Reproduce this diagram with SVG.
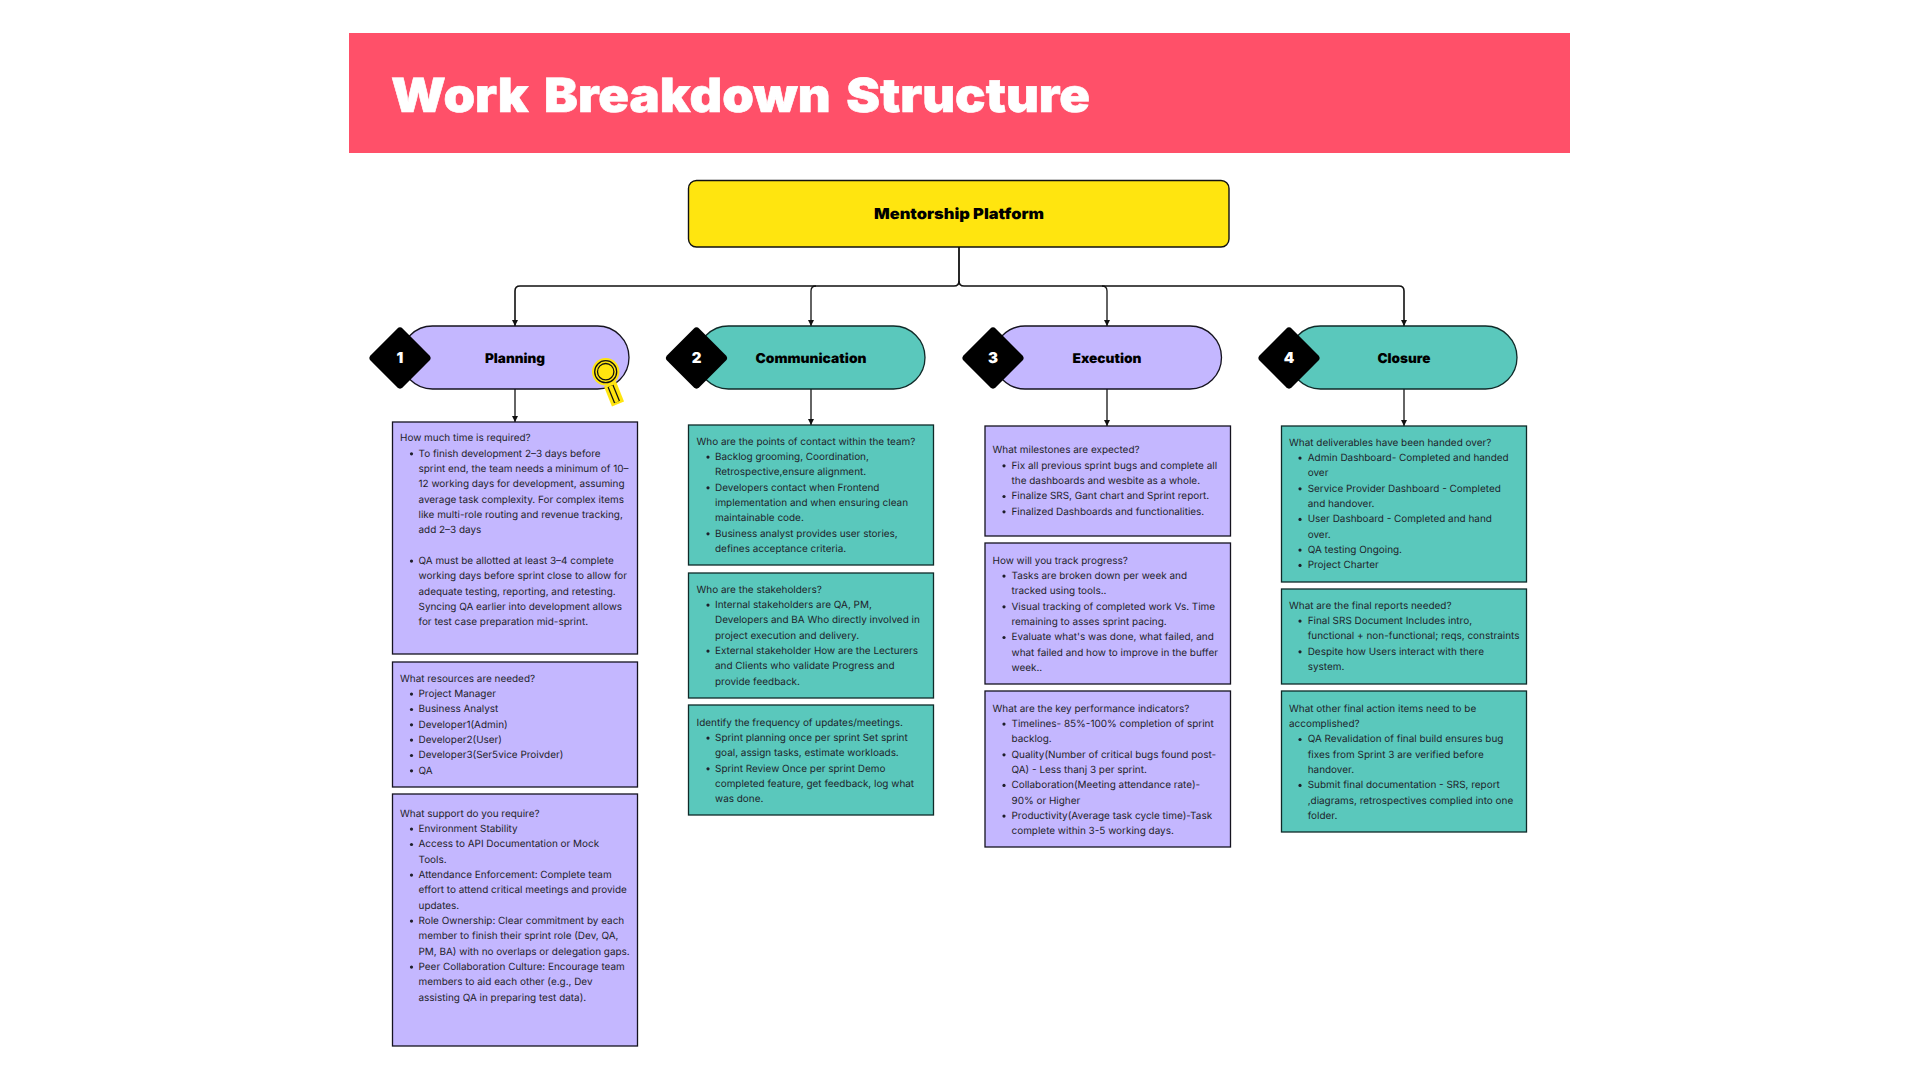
<svg xmlns="http://www.w3.org/2000/svg" xmlns:xlink="http://www.w3.org/1999/xlink" width="1920" height="1080" viewBox="0 0 1920 1080">
<style>
text{text-rendering:geometricPrecision}
.b{font-family:Inter,"Noto Sans",sans-serif;font-size:9.95px;fill:#1e1e2a;transform:translateY(-0.6px)}
.h{font-family:Inter,"Liberation Sans",sans-serif;font-weight:900;fill:#000;text-anchor:middle}
.p{fill:#c4b7ff;stroke:#15131f;stroke-width:1.3}
.t{fill:#5ac8bc;stroke:#0f2a28;stroke-width:1.3}
.k{fill:#000}
.n{font-family:Inter,"Liberation Sans",sans-serif;font-weight:900;font-size:15px;fill:#fff;text-anchor:middle}
.c{fill:none;stroke:#111;stroke-width:1.3}
.d{fill:#1e1e2a}
</style>
<defs>
<marker id="a" markerUnits="userSpaceOnUse" markerWidth="7" markerHeight="6" refX="6" refY="3" orient="auto"><path d="M0 0L6 3L0 6Z" fill="#111"/></marker>
<rect id="dm" x="-22.7" y="-22.7" width="45.4" height="45.4" rx="4" transform="rotate(45)"/>
</defs>
<rect width="1920" height="1080" fill="#fff"/>
<g id="banner"><rect x="349" y="33" width="1221" height="120" fill="#ff5069"/>
<text x="391" y="112" textLength="699" lengthAdjust="spacingAndGlyphs" style="font-family:Inter,'Liberation Sans',sans-serif;font-weight:900;font-size:47px;word-spacing:5px;fill:#fff;stroke:#fff;stroke-width:.6">Work Breakdown Structure</text></g>
<g id="connectors">
<path class="c" style="stroke-width:1.8" d="M959 247V281"/>
<path class="c" style="stroke-width:1.6" d="M959 281Q959 286 954 286H520Q515 286 515 291V326" marker-end="url(#a)"/>
<path class="c" d="M816 286Q811 286 811 291V326" marker-end="url(#a)"/>
<path class="c" style="stroke-width:1.6" d="M959 281Q959 286 964 286H1399Q1404 286 1404 291V326" marker-end="url(#a)"/>
<path class="c" d="M1102 286Q1107 286 1107 291V326" marker-end="url(#a)"/>
<path class="c" d="M515 389V422" marker-end="url(#a)"/>
<path class="c" d="M811 389V425" marker-end="url(#a)"/>
<path class="c" d="M1107 389V426" marker-end="url(#a)"/>
<path class="c" d="M1404 389V426" marker-end="url(#a)"/>
</g>
<g id="root"><rect x="688.500" y="180.500" width="540.500" height="66.500" rx="8" fill="#ffe50f" stroke="#111" stroke-width="1.4"/>
<text class="h" x="959" y="218.500" font-size="15" textLength="170" lengthAdjust="spacingAndGlyphs">Mentorship Platform</text></g>
<g id="planning"><rect class="p" x="401" y="326" width="228" height="63" rx="31.5"/><use xlink:href="#dm" x="400" y="358"/><text class="n" x="400" y="363">1</text><text class="h" x="515" y="363" font-size="13.500" textLength="60" lengthAdjust="spacingAndGlyphs">Planning</text>
<g id="magnifier"><path d="M610 384L618 404" stroke="#ffe50f" stroke-width="13" fill="none"/><path d="M610.500 386L617 402" stroke="#111" stroke-width="6.500" fill="none"/><path d="M610.500 386L617 402" stroke="#ffe50f" stroke-width="4" fill="none"/><circle cx="605.700" cy="371.700" r="13.700" fill="#ffe50f"/><circle cx="605.700" cy="371.700" r="11" fill="none" stroke="#111" stroke-width="1.300"/><circle cx="605.700" cy="371.700" r="8.200" fill="#ffe50f" stroke="#111" stroke-width="1.300"/></g></g>
<g id="communication"><rect class="t" x="697" y="326" width="228" height="63" rx="31.5"/><use xlink:href="#dm" x="696.500" y="358"/><text class="n" x="696.500" y="363">2</text><text class="h" x="811" y="363" font-size="13.500" textLength="111" lengthAdjust="spacingAndGlyphs">Communication</text></g>
<g id="execution"><rect class="p" x="993.500" y="326" width="228" height="63" rx="31.5"/><use xlink:href="#dm" x="993" y="358"/><text class="n" x="993" y="363">3</text><text class="h" x="1107" y="363" font-size="13.500" textLength="69" lengthAdjust="spacingAndGlyphs">Execution</text></g>
<g id="closure"><rect class="t" x="1289" y="326" width="228" height="63" rx="31.5"/><use xlink:href="#dm" x="1289" y="358"/><text class="n" x="1289" y="363">4</text><text class="h" x="1404" y="363" font-size="13.500" textLength="53" lengthAdjust="spacingAndGlyphs">Closure</text></g>

<g id="box-time"><rect class="p" x="392.500" y="422" width="245" height="232"/>
<text class="b" x="400" y="442">How much time is required?<tspan x="418.500" dy="15.33">To finish development 2–3 days before</tspan><tspan x="418.500" dy="15.33">sprint end, the team needs a minimum of 10–</tspan><tspan x="418.500" dy="15.33">12 working days for development, assuming</tspan><tspan x="418.500" dy="15.33">average task complexity. For complex items</tspan><tspan x="418.500" dy="15.33">like multi-role routing and revenue tracking,</tspan><tspan x="418.500" dy="15.33">add 2–3 days</tspan><tspan x="418.500" dy="30.66">QA must be allotted at least 3–4 complete</tspan><tspan x="418.500" dy="15.33">working days before sprint close to allow for</tspan><tspan x="418.500" dy="15.33">adequate testing, reporting, and retesting.</tspan><tspan x="418.500" dy="15.33">Syncing QA earlier into development allows</tspan><tspan x="418.500" dy="15.33">for test case preparation mid-sprint.</tspan></text>
<circle class="d" cx="411.500" cy="453.800" r="1.6"/><circle class="d" cx="411.500" cy="561.100" r="1.6"/></g>

<g id="box-resources"><rect class="p" x="392.500" y="662" width="245" height="125"/>
<text class="b" x="400" y="682.300">What resources are needed?<tspan x="418.500" dy="15.33">Project Manager</tspan><tspan x="418.500" dy="15.33">Business Analyst</tspan><tspan x="418.500" dy="15.33">Developer1(Admin)</tspan><tspan x="418.500" dy="15.33">Developer2(User)</tspan><tspan x="418.500" dy="15.33">Developer3(Ser5vice Proivder)</tspan><tspan x="418.500" dy="15.33">QA</tspan></text>
<circle class="d" cx="411.500" cy="694.100" r="1.6"/><circle class="d" cx="411.500" cy="709.500" r="1.6"/><circle class="d" cx="411.500" cy="724.800" r="1.6"/><circle class="d" cx="411.500" cy="740.100" r="1.6"/><circle class="d" cx="411.500" cy="755.500" r="1.6"/><circle class="d" cx="411.500" cy="770.800" r="1.6"/></g>

<g id="box-support"><rect class="p" x="392.500" y="794" width="245" height="252"/>
<text class="b" x="400" y="817.300">What support do you require?<tspan x="418.500" dy="15.33">Environment Stability</tspan><tspan x="418.500" dy="15.33">Access to API Documentation or Mock</tspan><tspan x="418.500" dy="15.33">Tools.</tspan><tspan x="418.500" dy="15.33">Attendance Enforcement: Complete team</tspan><tspan x="418.500" dy="15.33">effort to attend critical meetings and provide</tspan><tspan x="418.500" dy="15.33">updates.</tspan><tspan x="418.500" dy="15.33">Role Ownership: Clear commitment by each</tspan><tspan x="418.500" dy="15.33">member to finish their sprint role (Dev, QA,</tspan><tspan x="418.500" dy="15.33">PM, BA) with no overlaps or delegation gaps.</tspan><tspan x="418.500" dy="15.33">Peer Collaboration Culture: Encourage team</tspan><tspan x="418.500" dy="15.33">members to aid each other (e.g., Dev</tspan><tspan x="418.500" dy="15.33">assisting QA in preparing test data).</tspan></text>
<circle class="d" cx="411.500" cy="829.100" r="1.6"/><circle class="d" cx="411.500" cy="844.500" r="1.6"/><circle class="d" cx="411.500" cy="875.100" r="1.6"/><circle class="d" cx="411.500" cy="921.100" r="1.6"/><circle class="d" cx="411.500" cy="967.100" r="1.6"/></g>

<g id="box-contact"><rect class="t" x="688.500" y="425" width="245" height="140"/>
<text class="b" x="696.500" y="445.300">Who are the points of contact within the team?<tspan x="715" dy="15.33">Backlog grooming, Coordination,</tspan><tspan x="715" dy="15.33">Retrospective,ensure alignment.</tspan><tspan x="715" dy="15.33">Developers contact when Frontend</tspan><tspan x="715" dy="15.33">implementation and when ensuring clean</tspan><tspan x="715" dy="15.33">maintainable code.</tspan><tspan x="715" dy="15.33">Business analyst provides user stories,</tspan><tspan x="715" dy="15.33">defines acceptance criteria.</tspan></text>
<circle class="d" cx="708" cy="457.100" r="1.6"/><circle class="d" cx="708" cy="487.800" r="1.6"/><circle class="d" cx="708" cy="533.800" r="1.6"/></g>

<g id="box-stakeholders"><rect class="t" x="688.500" y="573" width="245" height="125"/>
<text class="b" x="696.500" y="593.300">Who are the stakeholders?<tspan x="715" dy="15.33">Internal stakeholders are QA, PM,</tspan><tspan x="715" dy="15.33">Developers and BA Who directly involved in</tspan><tspan x="715" dy="15.33">project execution and delivery.</tspan><tspan x="715" dy="15.33">External stakeholder How are the Lecturers</tspan><tspan x="715" dy="15.33">and Clients who validate Progress and</tspan><tspan x="715" dy="15.33">provide feedback.</tspan></text>
<circle class="d" cx="708" cy="605.100" r="1.6"/><circle class="d" cx="708" cy="651.100" r="1.6"/></g>

<g id="box-frequency"><rect class="t" x="688.500" y="705" width="245" height="110"/>
<text class="b" x="696.500" y="726.300">Identify the frequency of updates/meetings.<tspan x="715" dy="15.33">Sprint planning once per sprint Set sprint</tspan><tspan x="715" dy="15.33">goal, assign tasks, estimate workloads.</tspan><tspan x="715" dy="15.33">Sprint Review Once per sprint Demo</tspan><tspan x="715" dy="15.33">completed feature, get feedback, log what</tspan><tspan x="715" dy="15.33">was done.</tspan></text>
<circle class="d" cx="708" cy="738.100" r="1.6"/><circle class="d" cx="708" cy="768.800" r="1.6"/></g>

<g id="box-milestones"><rect class="p" x="985" y="426" width="245.500" height="110"/>
<text class="b" x="992.500" y="454">What milestones are expected?<tspan x="1011.500" dy="15.33">Fix all previous sprint bugs and complete all</tspan><tspan x="1011.500" dy="15.33">the dashboards and wesbite as a whole.</tspan><tspan x="1011.500" dy="15.33">Finalize SRS, Gant chart and Sprint report.</tspan><tspan x="1011.500" dy="15.33">Finalized Dashboards and functionalities.</tspan></text>
<circle class="d" cx="1004" cy="465.800" r="1.6"/><circle class="d" cx="1004" cy="496.500" r="1.6"/><circle class="d" cx="1004" cy="511.800" r="1.6"/></g>

<g id="box-progress"><rect class="p" x="985" y="543" width="245.500" height="141"/>
<text class="b" x="992.500" y="564.300">How will you track progress?<tspan x="1011.500" dy="15.33">Tasks are broken down per week and</tspan><tspan x="1011.500" dy="15.33">tracked using tools..</tspan><tspan x="1011.500" dy="15.33">Visual tracking of completed work Vs. Time</tspan><tspan x="1011.500" dy="15.33">remaining to asses sprint pacing.</tspan><tspan x="1011.500" dy="15.33">Evaluate what's was done, what failed, and</tspan><tspan x="1011.500" dy="15.33">what failed and how to improve in the buffer</tspan><tspan x="1011.500" dy="15.33">week..</tspan></text>
<circle class="d" cx="1004" cy="576.100" r="1.6"/><circle class="d" cx="1004" cy="606.800" r="1.6"/><circle class="d" cx="1004" cy="637.500" r="1.6"/></g>

<g id="box-kpi"><rect class="p" x="985" y="691" width="245.500" height="156"/>
<text class="b" x="992.500" y="712.300">What are the key performance indicators?<tspan x="1011.500" dy="15.33">Timelines- 85%-100% completion of sprint</tspan><tspan x="1011.500" dy="15.33">backlog.</tspan><tspan x="1011.500" dy="15.33">Quality(Number of critical bugs found post-</tspan><tspan x="1011.500" dy="15.33">QA) - Less thanj 3 per sprint.</tspan><tspan x="1011.500" dy="15.33">Collaboration(Meeting attendance rate)-</tspan><tspan x="1011.500" dy="15.33">90% or Higher</tspan><tspan x="1011.500" dy="15.33">Productivity(Average task cycle time)-Task</tspan><tspan x="1011.500" dy="15.33">complete within 3-5 working days.</tspan></text>
<circle class="d" cx="1004" cy="724.100" r="1.6"/><circle class="d" cx="1004" cy="754.800" r="1.6"/><circle class="d" cx="1004" cy="785.400" r="1.6"/><circle class="d" cx="1004" cy="816.100" r="1.6"/></g>

<g id="box-deliverables"><rect class="t" x="1281.500" y="426" width="245" height="156"/>
<text class="b" x="1289" y="446.300">What deliverables have been handed over?<tspan x="1307.700" dy="15.33">Admin Dashboard- Completed and handed</tspan><tspan x="1307.700" dy="15.33">over</tspan><tspan x="1307.700" dy="15.33">Service Provider Dashboard - Completed</tspan><tspan x="1307.700" dy="15.33">and handover.</tspan><tspan x="1307.700" dy="15.33">User Dashboard - Completed and hand</tspan><tspan x="1307.700" dy="15.33">over.</tspan><tspan x="1307.700" dy="15.33">QA testing Ongoing.</tspan><tspan x="1307.700" dy="15.33">Project Charter</tspan></text>
<circle class="d" cx="1300" cy="458.100" r="1.6"/><circle class="d" cx="1300" cy="488.800" r="1.6"/><circle class="d" cx="1300" cy="519.400" r="1.6"/><circle class="d" cx="1300" cy="550.100" r="1.6"/><circle class="d" cx="1300" cy="565.400" r="1.6"/></g>

<g id="box-reports"><rect class="t" x="1281.500" y="589" width="245" height="95"/>
<text class="b" x="1289" y="609.300">What are the final reports needed?<tspan x="1307.700" dy="15.33">Final SRS Document Includes intro,</tspan><tspan x="1307.700" dy="15.33">functional + non-functional; reqs, constraints</tspan><tspan x="1307.700" dy="15.33">Despite how Users interact with there</tspan><tspan x="1307.700" dy="15.33">system.</tspan></text>
<circle class="d" cx="1300" cy="621.100" r="1.6"/><circle class="d" cx="1300" cy="651.800" r="1.6"/></g>

<g id="box-actions"><rect class="t" x="1281.500" y="691" width="245" height="141"/>
<text class="b" x="1289" y="712.300">What other final action items need to be<tspan x="1289" dy="15.33">accomplished?</tspan><tspan x="1307.700" dy="15.33">QA Revalidation of final build ensures bug</tspan><tspan x="1307.700" dy="15.33">fixes from Sprint 3 are verified before</tspan><tspan x="1307.700" dy="15.33">handover.</tspan><tspan x="1307.700" dy="15.33">Submit final documentation - SRS, report</tspan><tspan x="1307.700" dy="15.33">,diagrams, retrospectives complied into one</tspan><tspan x="1307.700" dy="15.33">folder.</tspan></text>
<circle class="d" cx="1300" cy="739.500" r="1.6"/><circle class="d" cx="1300" cy="785.400" r="1.6"/></g>
</svg>
